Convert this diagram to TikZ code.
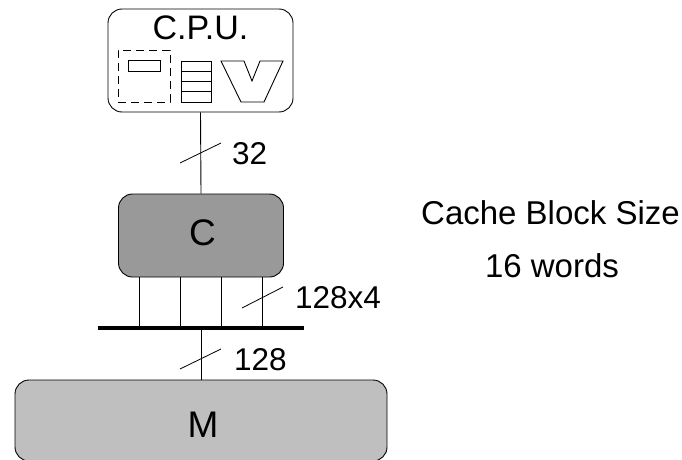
\documentclass[tikz,border=0pt]{standalone}
\usepackage{fontspec}
\setmainfont{Liberation Sans}
\usetikzlibrary{positioning,calc}

\begin{document}
\begin{tikzpicture}[
    x=1pt, y=-1pt,
    every node/.style={font=\fontsize{31.5}{36}\selectfont, inner sep=0pt},
    big/.style={font=\fontsize{37}{42}\selectfont},
    note/.style={font=\fontsize{33}{40}\selectfont, anchor=base},
    block/.style={rectangle, draw, rounded corners=14pt, line width=0.9pt},
    part/.style={rectangle, draw, line width=0.9pt},
    line/.style={draw, line width=0.9pt},
    tick/.style={draw, line width=0.8pt}
]
    \useasboundingbox (0,0) rectangle (682,460);

    \node [block, minimum width=185pt, minimum height=103pt] (cpu) at (200.5,60.5) {};
    \node [anchor=base, font=\fontsize{34}{40}\selectfont] (cpulabel) at (200.5,40) {C.P.U.};
    \node [block, fill=black!40, minimum width=165pt, minimum height=83pt] (cache) at (201,235.5) {};
    \node [big, anchor=base] (cachelabel) at (202.5,245.5) {C};
    \node [block, fill=black!25, minimum width=372pt, minimum height=81pt] (mem) at (201,420.5) {};
    \node [big, anchor=base] (memlabel) at (203,437) {M};
    \node [rectangle, fill=black, minimum width=206pt, minimum height=3.6pt] (bus) at (201,328) {};

    % inside the cpu
    \node [part, dash pattern=on 8pt off 5pt, minimum width=52pt, minimum height=52pt] (regfile) at (144,76) {};
    \node [part, minimum width=32pt, minimum height=11pt] (reg) at (144,65.5) {};
    \node [part, minimum width=30pt, minimum height=41pt] (stack) at (196,81.5) {};
    \draw [line] (181,71) -- (211,71);
    \draw [line] (181,81) -- (211,81);
    \draw [line] (181,91) -- (211,91);
    \draw [line, line join=miter] (221,61) -- (241,102) -- (264,102) -- (283,61) -- (260,61) -- (252,81) -- (244,61) -- cycle;

    % buses
    \path [line] (cpu.south) -- (cache.north);
    \path [line] (bus.south) -- (mem.north);
    \foreach \x in {139,180,221,262} {
        \coordinate (top\x) at (\x,277);
        \coordinate (foot\x) at (\x,328);
        \path [line] (top\x) -- (foot\x);
    }

    \path [tick] (180,163) -- (221,143);
    \path [tick] (242,308) -- (283,287);
    \path [tick] (180,369) -- (221,349);

    \node [anchor=base west] (width32) at (232,164) {32};
    \node [anchor=base west] (width128x4) at (295,308) {128x4};
    \node [anchor=base west] (width128) at (234,370) {128};

    \node [note] (blocksize) at (550.5,224) {Cache Block Size};
    \node [note] (words) at (552,277) {16 words};
\end{tikzpicture}
\end{document}
